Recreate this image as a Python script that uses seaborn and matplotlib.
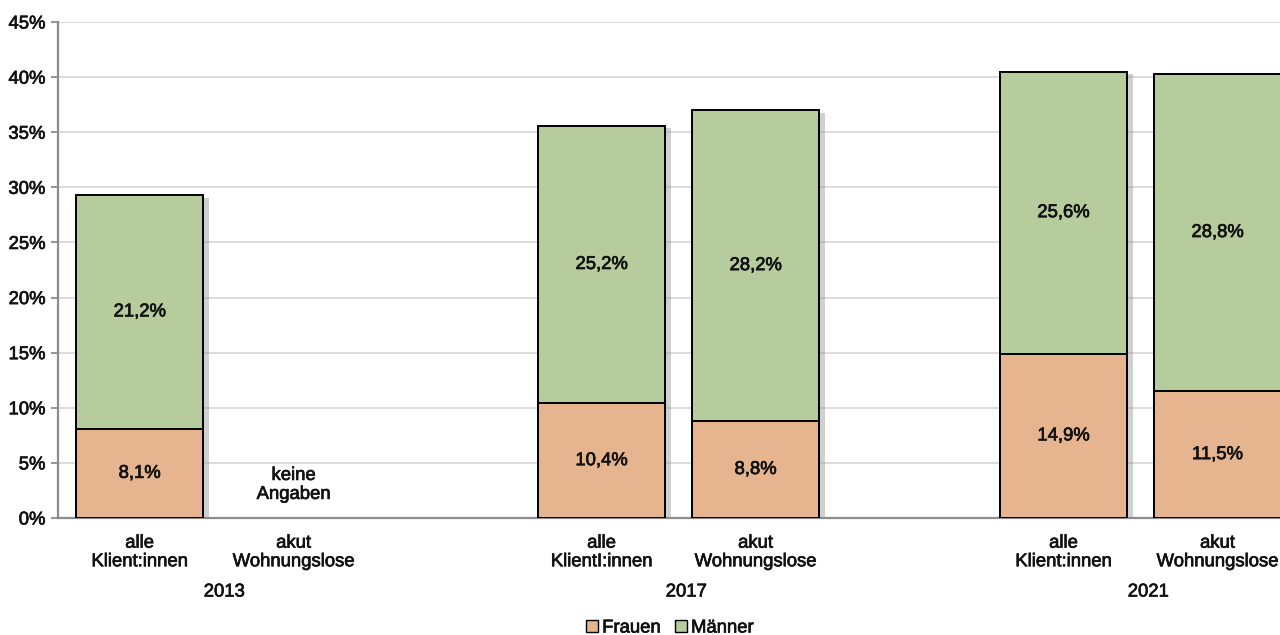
import numpy as np
import pandas as pd
import matplotlib
matplotlib.use("Agg")
import matplotlib.pyplot as plt
import matplotlib.transforms as mtransforms
from matplotlib.patches import Patch
from matplotlib import patheffects
import seaborn as sns

# Values (%)
years = ["2013", "2017", "2021"]
slot_labels = ["alle\nKlient:innen", "akut\nWohnungslose", "",
               "alle\nKlientI:innen", "akut\nWohnungslose", "",
               "alle\nKlient:innen", "akut\nWohnungslose"]
bar_slots = ["2013 alle", "2017 alle", "2017 akut", "2021 alle", "2021 akut"]
frauen = [8.1, 10.4, 8.8, 14.9, 11.5]
maenner = [21.2, 25.2, 28.2, 25.6, 28.8]
yticks = [0, 5, 10, 15, 20, 25, 30, 35, 40, 45]

slot_order = ["2013 alle", "2013 akut", "gap1", "2017 alle", "2017 akut",
              "gap2", "2021 alle", "2021 akut"]

df = pd.DataFrame({"slot": bar_slots, "Frauen": frauen, "Männer": maenner})
df["Gesamt"] = df["Frauen"] + df["Männer"]

sns.set_style("white")
plt.rcParams["font.family"] = ["Liberation Sans", "DejaVu Sans"]

FS = 13.3
TXT = "#111111"
heavy = [patheffects.withStroke(linewidth=0.5, foreground=TXT)]

c_frauen = "#e6b58f"
c_maenner = "#b6cc9d"

fig = plt.figure(figsize=(12.8, 6.35), dpi=100)
ax = fig.add_axes([58 / 1280, 1 - 518 / 635, 1 - 58 / 1280, (518 - 22) / 635])

shadow = [patheffects.SimplePatchShadow(offset=(4, -2), shadow_rgbFace="#8a8a8a", alpha=0.4),
          patheffects.Normal()]

sns.barplot(data=df, x="slot", y="Gesamt", order=slot_order, color=c_maenner,
            width=0.825, edgecolor="black", linewidth=1.4, saturation=1, ax=ax, zorder=3)
sns.barplot(data=df, x="slot", y="Frauen", order=slot_order, color=c_frauen,
            width=0.825, edgecolor="black", linewidth=1.4, saturation=1, ax=ax, zorder=3)
for i, p in enumerate(ax.patches):
    if i < len(bar_slots):
        p.set_path_effects(shadow)

# Value labels
pos = {s: slot_order.index(s) for s in bar_slots}
for s, f, m in zip(bar_slots, frauen, maenner):
    x = pos[s]
    ax.text(x, f / 2, f"{f:.1f}%".replace(".", ","), ha="center", va="center",
            fontsize=FS, color=TXT, zorder=5, path_effects=heavy)
    ax.text(x, f + m / 2, f"{m:.1f}%".replace(".", ","), ha="center", va="center",
            fontsize=FS, color=TXT, zorder=5, path_effects=heavy)
ax.text(1, 3.0, "keine\nAngaben", ha="center", va="center", fontsize=FS,
        color=TXT, linespacing=1.15, zorder=5, path_effects=heavy)

# Axes styling
ax.set_ylim(0, 45)
ax.set_xlim(-0.53, 7.406)
ax.set_yticks(yticks)
ax.set_yticklabels([f"{v}%" for v in yticks], fontsize=FS, color=TXT)
ax.yaxis.grid(True, color="#d6d6d6", linewidth=1.2, zorder=0)
ax.set_axisbelow(True)
ax.tick_params(axis="y", length=5, width=1.3, color="#8c8c8c", pad=4, left=True)
ax.set_xticks(range(len(slot_order)))
ax.set_xticklabels(slot_labels, fontsize=FS, color=TXT, linespacing=1.12)
ax.tick_params(axis="x", length=0, pad=12)
for lab in ax.get_xticklabels() + ax.get_yticklabels():
    lab.set_path_effects(heavy)
ax.set_xlabel("")
ax.set_ylabel("")
for side in ["top", "right"]:
    ax.spines[side].set_visible(False)
for side in ["left", "bottom"]:
    ax.spines[side].set_color("#8c8c8c")
    ax.spines[side].set_linewidth(1.6)

# Year labels under each group
trans = mtransforms.blended_transform_factory(ax.transData, fig.transFigure)
for yr, x in zip(years, [0.5, 3.5, 6.5]):
    ax.text(x + 0.05, 1 - 592 / 635, yr, transform=trans, ha="center", va="center",
            fontsize=FS, color=TXT, path_effects=heavy)

handles = [Patch(facecolor=c_frauen, edgecolor="black", linewidth=1.0, label="Frauen"),
           Patch(facecolor=c_maenner, edgecolor="black", linewidth=1.0, label="Männer")]
leg = fig.legend(handles=handles, loc="center", bbox_to_anchor=(670 / 1280, 1 - 628 / 635),
                 ncol=2, frameon=False, fontsize=FS, handlelength=0.65, handleheight=0.65,
                 handletextpad=0.2, columnspacing=0.8, borderpad=0)
for t in leg.get_texts():
    t.set_color(TXT)
    t.set_path_effects(heavy)

fig.savefig("out.png", dpi=100)
